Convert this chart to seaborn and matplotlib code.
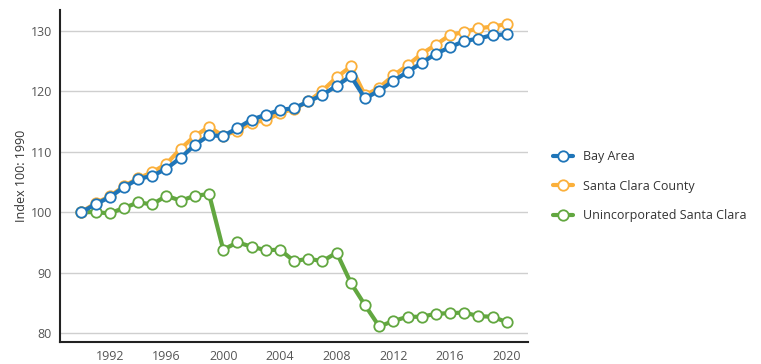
import numpy as np
import pandas as pd
import seaborn as sns
import matplotlib.pyplot as plt

# Datos (índice 100 = 1990)
years = list(range(1990, 2021))

bay_area = [100.0, 101.3, 102.5, 104.1, 105.5, 106.0, 107.2, 109.0, 111.1, 112.7,
            112.6, 113.9, 115.3, 116.1, 116.9, 117.2, 118.3, 119.4, 120.9, 122.5,
            118.8, 120.1, 121.7, 123.2, 124.7, 126.2, 127.3, 128.3, 128.7, 129.3,
            129.4]

santa_clara = [100.0, 101.5, 102.6, 104.3, 105.6, 106.6, 108.0, 110.5, 112.6, 114.1,
               112.6, 113.5, 114.8, 115.2, 116.4, 117.1, 118.3, 120.1, 122.3, 124.1,
               119.3, 120.6, 122.6, 124.3, 126.2, 127.7, 129.3, 129.8, 130.4, 130.7,
               131.1]

unincorporated = [100.0, 100.0, 99.8, 100.7, 101.6, 101.3, 102.7, 101.9, 102.7, 103.0,
                  93.8, 95.0, 94.3, 93.7, 93.8, 91.9, 92.3, 91.9, 93.3, 88.3,
                  84.6, 81.1, 82.0, 82.7, 82.7, 83.2, 83.3, 83.4, 82.8, 82.7,
                  81.8]

series_names = ["Bay Area", "Santa Clara County", "Unincorporated Santa Clara"]
colors = {"Bay Area": "#1f75b8",
          "Santa Clara County": "#fbb03b",
          "Unincorporated Santa Clara": "#62a740"}

df = pd.DataFrame({
    "year": years * 3,
    "value": bay_area + santa_clara + unincorporated,
    "series": ["Bay Area"] * len(years) + ["Santa Clara County"] * len(years)
              + ["Unincorporated Santa Clara"] * len(years),
})

sns.set_style("white")
plt.rcParams["font.family"] = ["Open Sans", "DejaVu Sans"]

fig = plt.figure(figsize=(7.61, 3.64), dpi=100)
ax = fig.add_axes([0.079, 0.06, 0.615, 0.912])

# se dibuja primero el verde, luego naranja y azul encima
for name in reversed(series_names):
    sub = df[df["series"] == name]
    sns.lineplot(data=sub, x="year", y="value", ax=ax, color=colors[name],
                 linewidth=3.0, marker="o", markersize=7.5,
                 markerfacecolor="white", markeredgecolor=colors[name],
                 markeredgewidth=1.3, label=name)

ax.set_xlim(1988.5, 2021.5)
ax.set_ylim(78.5, 133.4)
ax.set_yticks([80, 90, 100, 110, 120, 130])
ax.set_xticks(list(range(1992, 2021, 4)))
ax.yaxis.grid(True, color="#cfcfcf", linewidth=1)
ax.xaxis.grid(False)
ax.tick_params(axis="both", length=0, labelsize=9, labelcolor="#555555", pad=6)

for side in ["top", "right"]:
    ax.spines[side].set_visible(False)
for side in ["left", "bottom"]:
    ax.spines[side].set_color("#222222")
    ax.spines[side].set_linewidth(1.5)

ax.set_xlabel("")
ax.set_ylabel("Index 100: 1990", fontsize=9, color="#333333", labelpad=2)

# leyenda en el orden original
h, l = ax.get_legend_handles_labels()
order = [l.index(n) for n in series_names]
ax.legend([h[i] for i in order], [l[i] for i in order],
          loc="center left", bbox_to_anchor=(1.03, 0.47), frameon=False,
          fontsize=9, handlelength=1.6, labelspacing=1.3, labelcolor="#333333")

fig.savefig("out.png", dpi=100)
